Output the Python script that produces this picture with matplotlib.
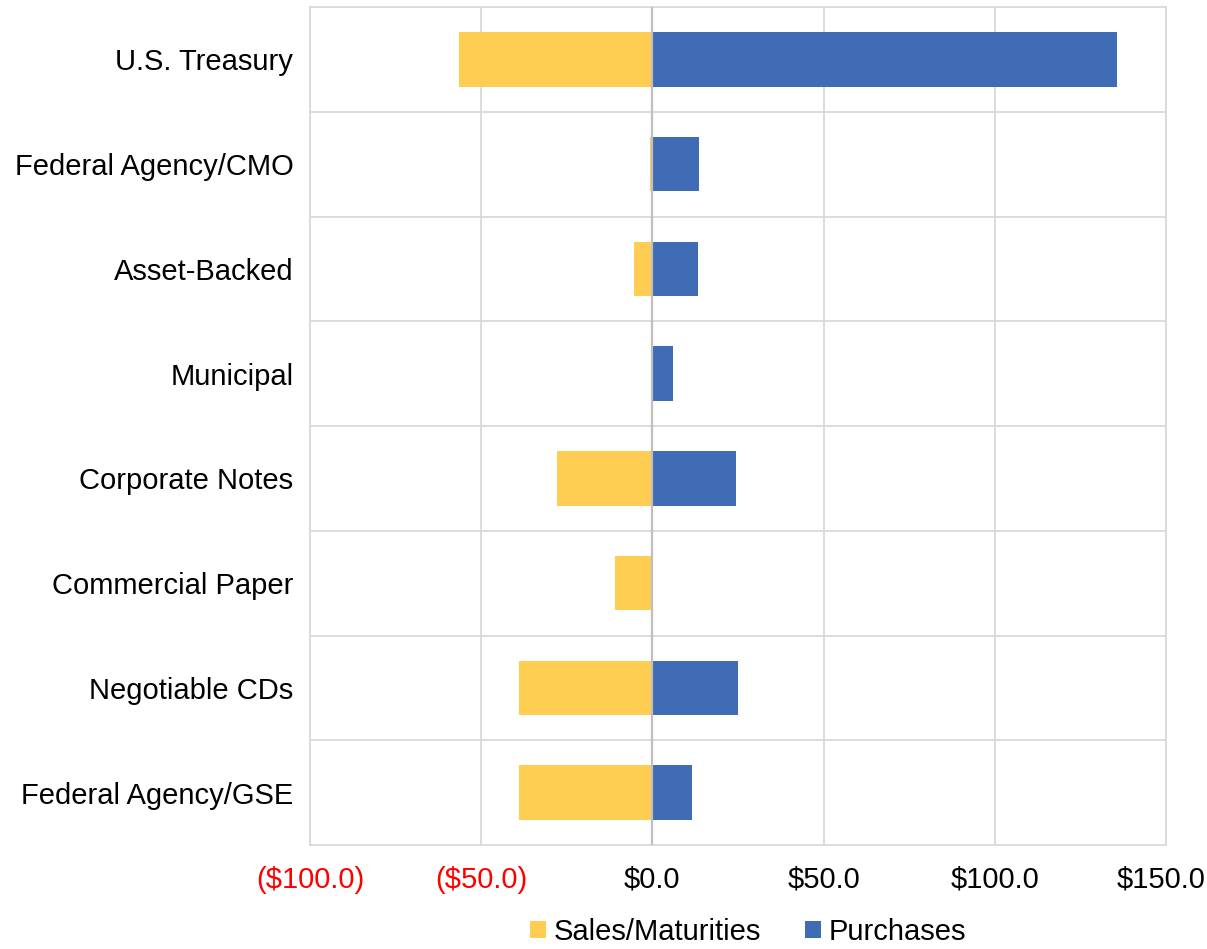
import matplotlib
matplotlib.use("Agg")
import matplotlib.pyplot as plt
import numpy as np

categories = ["U.S. Treasury", "Federal Agency/CMO", "Asset-Backed", "Municipal",
              "Corporate Notes", "Commercial Paper", "Negotiable CDs", "Federal Agency/GSE"]
sales = [-56.5, -0.6, -5.5, 0.0, -27.9, -10.8, -38.9, -39.1]
purchases = [135.8, 13.5, 13.4, 5.9, 24.4, 0.0, 25.0, 11.5]
xticks = [-100, -50, 0, 50, 100, 150]
xtick_labels = ["($100.0)", "($50.0)", "$0.0", "$50.0", "$100.0", "$150.0"]

plt.rcParams['font.family'] = ['Liberation Sans', 'DejaVu Sans']

fig = plt.figure(figsize=(12.07, 9.49), dpi=100)
ax = fig.add_axes([310/1207, 1-845/949, (1166-310)/1207, (845-7)/949])

n = len(categories)
y = np.arange(n)
h = 0.52
yellow = '#FFCD51'
blue = '#3F6CB4'
ax.barh(y, sales, height=h, color=yellow, label='Sales/Maturities', zorder=3)
ax.barh(y, purchases, height=h, color=blue, label='Purchases', zorder=3)

ax.set_ylim(n - 0.5, -0.5)
ax.set_xlim(-100, 150)
ax.set_yticks(y)
ax.set_yticklabels(categories, fontsize=21)
ax.set_xticks(xticks)
ax.set_xticklabels([])

# x tick labels drawn at the data positions (last one nudged to stay inside the figure)
for i, (v, t) in enumerate(zip(xticks, xtick_labels)):
    dx = -3.5 if i == len(xticks) - 1 else 0
    ax.annotate(t, xy=(v, 0), xycoords=('data', 'axes fraction'),
                xytext=(dx, -15), textcoords='offset points',
                ha='center', va='top', fontsize=21,
                color='red' if v < 0 else 'black', annotation_clip=False)

ax.tick_params(axis='both', length=0)
ax.tick_params(axis='y', pad=12)

# gridlines
for xv in xticks:
    ax.axvline(xv, color='#d9d9d9', lw=1.3, zorder=1)
for b in np.arange(0.5, n - 0.5, 1):
    ax.axhline(b, color='#d9d9d9', lw=1.3, zorder=1)
ax.axvline(0, color='#bfbfbf', lw=1.6, zorder=4)

for s in ax.spines.values():
    s.set_color('#d9d9d9')
    s.set_linewidth(1.3)

leg = fig.legend(loc='center', bbox_to_anchor=(748/1207, 1-932/949), ncol=2, frameon=False,
                 fontsize=21, handlelength=0.55, handleheight=0.55, handletextpad=0.25,
                 columnspacing=1.5, borderpad=0)

fig.savefig('out.png', dpi=100)
